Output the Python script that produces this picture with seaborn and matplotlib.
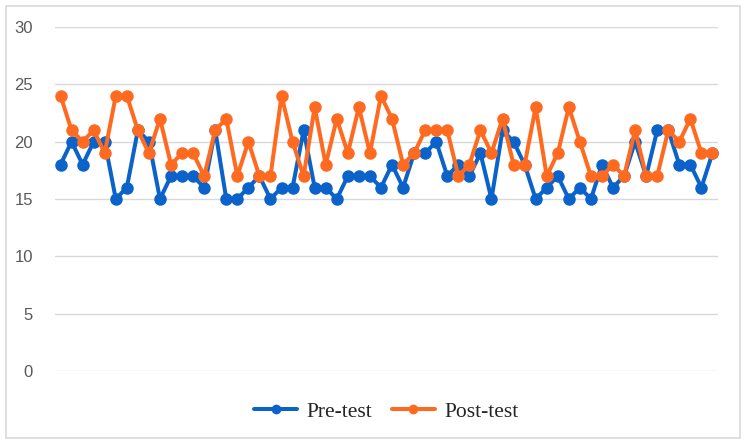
import numpy as np
import pandas as pd
import seaborn as sns
import matplotlib.pyplot as plt
from matplotlib.patches import Rectangle

pre_test = [18, 20, 18, 20, 20, 15, 16, 21, 20, 15, 17,
            17, 17, 16, 21, 15, 15, 16, 17, 15, 16,
            16, 21, 16, 16, 15, 17, 17, 17, 16, 18,
            16, 19, 19, 20, 17, 18, 17, 19, 15, 21,
            20, 18, 15, 16, 17, 15, 16, 15, 18, 16,
            17, 20, 17, 21, 21, 18, 18, 16, 19]
post_test = [24, 21, 20, 21, 19, 24, 24, 21, 19, 22, 18,
             19, 19, 17, 21, 22, 17, 20, 17, 17, 24,
             20, 17, 23, 18, 22, 19, 23, 19, 24, 22,
             18, 19, 21, 21, 21, 17, 18, 21, 19, 22,
             18, 18, 23, 17, 19, 23, 20, 17, 17, 18,
             17, 21, 17, 17, 21, 20, 22, 19, 19]
y_ticks = [0, 5, 10, 15, 20, 25, 30]

n = len(pre_test)
df = pd.DataFrame({
    'student': list(range(n)) * 2,
    'score': pre_test + post_test,
    'test': ['Pre-test'] * n + ['Post-test'] * n,
})

sns.set_theme(style='white')
plt.rcParams['font.family'] = ['Liberation Sans', 'DejaVu Sans']

fig = plt.figure(figsize=(7.44, 4.46), dpi=100)
ax = fig.add_axes([55 / 744, 1 - 371 / 446, 663 / 744, 344 / 446])

# outer chart border
fig.patches.append(Rectangle((6 / 744, 8 / 446), 734 / 744, 432 / 446,
                             transform=fig.transFigure, fill=False,
                             edgecolor='#d9d9d9', lw=1.2, zorder=0))

sns.lineplot(data=df, x='student', y='score', hue='test',
             palette={'Pre-test': '#0b63ca', 'Post-test': '#ff6a21'},
             marker='o', markersize=9, markeredgewidth=0, linewidth=2.9,
             ax=ax, legend=True)

ax.set_xlim(-0.5, n - 0.5)
ax.set_ylim(0, 30)
ax.set_yticks(y_ticks)
ax.set_xticks([])
ax.set_xlabel('')
ax.set_ylabel('')
ax.yaxis.grid(True, color='#d9d9d9', lw=1)
ax.set_axisbelow(True)
for s in ax.spines.values():
    s.set_visible(False)
ax.tick_params(axis='y', length=0, pad=16, labelsize=12, labelcolor='#595959')

handles, labels = ax.get_legend_handles_labels()
for h in handles:
    h.set_markersize(7)
ax.legend(handles, labels, loc='center', bbox_to_anchor=(0.5, -0.118),
          ncol=2, frameon=False, handlelength=2.0, columnspacing=0.9,
          handletextpad=0.45,
          prop={'family': 'Liberation Serif', 'size': 15.5})

fig.savefig('out.png', dpi=100)
